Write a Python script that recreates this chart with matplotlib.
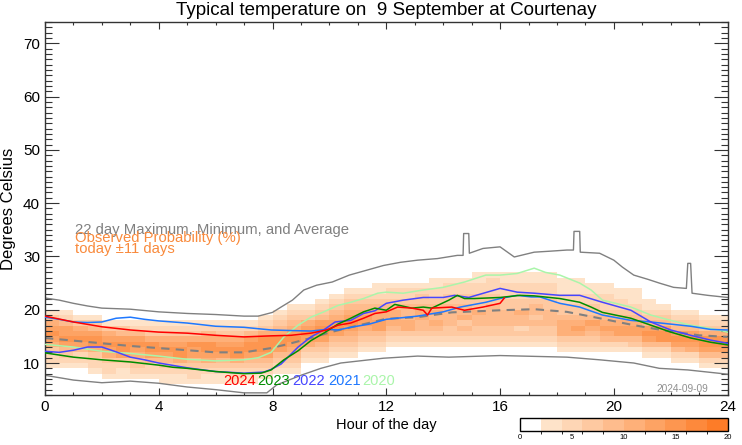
import numpy as np
import matplotlib
matplotlib.use('Agg')
from matplotlib import pyplot as plt
from matplotlib.colors import ListedColormap, BoundaryNorm, to_rgb

plt.rcParams['font.family'] = ['Liberation Sans', 'DejaVu Sans']

TITLE = 'Typical temperature on  9 September at Courtenay'

# observed probability, one string per half hour (0:00 .. 23:30),
# one digit per 1 degree bin starting at 5 C; digit n means [2n, 2n+2) %
prob_bin_low = 5
n_bins = 25
prob_columns = [
    '0000122356765310000000000', '0000123467664210000000000',
    '0000122467653100000000000', '0001223577643100000000000',
    '0012235676531000000000000', '0011236776431000000000000',
    '0012335676421000000000000', '0012246775321000000000000',
    '0112346765321000000000000', '0112357765321000000000000',
    '0122346675321000000000000', '0112356775421000000000000',
    '0112346765321000000000000', '0122357765321000000000000',
    '0112346776421000000000000', '0012346777532100000000000',
    '0001234677543210000000000', '0001234567654321000000000',
    '0000012356765321000000000', '0000012346776432100000000',
    '0000001234676543210000000', '0000001234567654321000000',
    '0000000123456654321000000', '0000000123466554321100000',
    '0000000012345554322100000', '0000000012355444322100000',
    '0000000012344554332100000', '0000000012345454322110000',
    '0000000012334444332210000', '0000000012343544332210000',
    '0000000012334453332211000', '0000000012334444332221000',
    '0000000012334443322211000', '0000000012324453322211000',
    '0000000012334344322211000', '0000000012334443322211000',
    '0000000123555433221110000', '0000000123565433221110000',
    '0000000123456433221100000', '0000000124565432221100000',
    '0000000124665432211000000', '0000000134665432111000000',
    '0000001246764321100000000', '0000001247764321000000000',
    '0000012467643210000000000', '0000012567643210000000000',
    '0000124677532100000000000', '0000124677532100000000000',
]

max_hours = [0, 0.5, 1, 1.5, 2, 3, 4, 5, 6, 7, 7.5, 8, 8.3, 8.7, 9.1, 9.55, 10.1, 10.7,
             11.3, 11.9, 12.5, 13.1, 13.8, 14.5, 14.7, 14.72, 14.9, 14.92, 15.4, 16, 16.5,
             17.2, 17.8, 18.35, 18.58, 18.6, 18.8, 18.82, 19.5, 20, 20.3, 20.7, 21.2, 21.6,
             22.1, 22.55, 22.6, 22.7, 22.75, 23.3, 24]
max_temp = [22.2, 21.8, 21.2, 20.7, 20.3, 20.1, 19.6, 19.3, 19.1, 18.8, 18.8, 19.5, 20.5,
            21.8, 23.7, 24.6, 25.2, 26.5, 27.4, 28.3, 28.9, 29.3, 29.6, 30.2, 30.2, 34.3,
            34.3, 30.6, 31.5, 31.8, 29.9, 30.8, 31.0, 31.2, 31.2, 34.7, 34.7, 30.8, 30.6,
            29.3, 28.0, 26.5, 25.7, 25.0, 24.2, 24.0, 28.7, 28.7, 23.1, 22.7, 22.3]

min_hours = [0, 1, 2, 3, 4, 5, 6, 7, 7.8, 8.15, 9, 9.7, 10.4, 11.9, 13.1, 14.2, 16, 18.35,
             19.5, 20.7, 21.6, 22.6, 24]
min_temp = [7.7, 6.8, 6.3, 6.6, 6.2, 5.5, 5.0, 4.4, 4.4, 5.9, 7.7, 9.0, 10.0, 10.9, 11.3,
            11.1, 11.4, 11.1, 10.6, 10.0, 9.0, 8.7, 7.9]

avg_hours = [0, 1, 2, 3, 4, 5, 6, 7, 7.95, 8.65, 9.35, 10.05, 10.75, 11.45, 12, 13.1, 14.3,
             16, 17.2, 18.35, 19.5, 20.7, 21.9, 23, 24]
avg_temp = [14.7, 14.2, 13.7, 13.2, 12.8, 12.4, 12.0, 12.0, 12.8, 13.7, 14.7, 15.8, 16.7,
            17.6, 18.3, 18.6, 19.5, 19.9, 20.1, 19.6, 18.4, 17.1, 16.0, 15.2, 14.9]

years = ['2024', '2023', '2022', '2021', '2020']
year_colors = ['#ff0000', '#008c00', '#4646ff', '#1e78ff', '#aaf5aa']

hours_2024 = [0, 1, 2, 3, 4, 5, 6, 7, 7.95, 8.65, 9.35, 9.9, 10.3, 10.75, 11.2, 11.6, 12,
              12.4, 12.9, 13.3, 13.45, 13.6, 14.3, 14.75, 15.4, 16, 16.15]
temp_2024 = [18.8, 17.7, 16.8, 16.2, 15.8, 15.6, 15.2, 14.9, 15.1, 15.2, 15.6, 16.2, 17.1,
             17.5, 18.4, 19.3, 19.6, 20.5, 20.3, 19.9, 19.0, 20.3, 20.5, 19.9, 20.5, 21.2, 22.2]

hours_2023 = [0, 1, 2, 3, 4, 4.5, 5, 6, 7, 7.6, 7.95, 8.4, 8.9, 9.35, 9.8, 10.3, 10.75,
              11.2, 11.6, 12, 12.3, 12.9, 13.3, 13.6, 14.2, 14.5, 14.75, 15.1, 16, 16.7,
              17.2, 18.1, 18.8, 19.2, 19.6, 20.6, 21.3, 22, 22.7, 23.4, 24]
temp_2023 = [11.9, 11.1, 10.6, 10.2, 9.6, 9.2, 9.0, 8.4, 8.0, 8.1, 8.7, 10.6, 12.3, 14.2,
             15.6, 17.3, 18.4, 19.6, 20.3, 19.9, 21.0, 20.3, 20.5, 20.3, 21.8, 22.7, 22.1,
             22.1, 22.3, 22.7, 22.6, 22.1, 21.4, 20.5, 19.5, 18.4, 17.1, 15.8, 14.7, 13.9, 13.4]

hours_2022 = [0, 0.5, 1, 1.5, 2, 2.5, 3, 3.5, 4, 5, 6, 7, 7.7, 7.95, 8.3, 8.9, 9.35, 9.8,
              10.2, 10.75, 11.2, 11.6, 12, 12.6, 13.3, 14, 14.4, 14.9, 16, 16.6, 17.2,
              18.1, 18.8, 19.6, 20.6, 21.3, 22, 22.7, 23.4, 24]
temp_2022 = [12.2, 12.0, 12.4, 13.0, 13.0, 12.1, 11.1, 10.6, 10.0, 9.1, 8.4, 8.1, 8.3, 8.8,
             9.8, 13.0, 14.9, 16.2, 17.7, 18.0, 19.3, 19.8, 21.2, 21.8, 22.3, 22.3, 22.7,
             22.3, 24.0, 23.3, 23.1, 22.7, 22.7, 21.4, 19.9, 17.7, 16.2, 15.2, 14.3, 13.7]

hours_2021 = [0, 0.5, 1, 1.5, 2, 2.5, 3, 3.5, 4, 5, 6, 7, 7.95, 8.6, 9.35, 9.9, 10.3, 10.75,
              11.4, 12, 13.1, 14, 14.6, 15.5, 16, 16.6, 17.1, 17.4, 18.1, 18.8, 19.6, 20.6,
              21.3, 22, 22.7, 23.4, 24]
temp_2021 = [18.6, 18.2, 17.7, 17.6, 17.7, 18.4, 18.6, 18.2, 17.9, 17.5, 16.9, 16.7, 16.2,
             16.1, 16.0, 16.3, 16.2, 16.7, 17.3, 18.2, 18.8, 19.6, 20.5, 21.4, 22.1, 22.7,
             22.4, 22.4, 21.2, 20.5, 19.0, 18.0, 17.7, 17.3, 16.9, 16.3, 16.2]

hours_2020 = [0, 1, 2, 3, 4, 5, 6, 7, 7.5, 7.95, 8.4, 8.9, 9.35, 9.8, 10.3, 10.75, 11.2,
              11.7, 12, 12.6, 13.3, 14, 14.75, 15.5, 16, 16.6, 17.2, 17.6, 18.1, 18.8, 19.2,
              19.6, 20.6, 21.3, 22, 22.7, 23.4, 24]
temp_2020 = [13.5, 13.0, 12.2, 11.8, 11.3, 10.7, 10.4, 10.6, 11.0, 12.0, 14.9, 17.1, 18.6,
             19.6, 20.8, 21.4, 22.1, 23.1, 23.3, 23.1, 23.7, 24.2, 25.2, 26.5, 26.5, 26.8,
             27.8, 27.0, 26.5, 25.0, 23.7, 21.8, 20.5, 19.0, 18.0, 17.1, 16.5, 15.8]

year_hours = [hours_2024, hours_2023, hours_2022, hours_2021, hours_2020]
year_temps = [temp_2024, temp_2023, temp_2022, temp_2021, temp_2020]
label_hours = [6.26, 7.47, 8.71, 9.96, 11.17]

# colour scale for the probability cells: white, then light peach to orange
c0 = np.array(to_rgb('#fee3c9'))
c1 = np.array(to_rgb('#fd7c28'))
level_colors = ['#ffffff'] + [tuple(c0 + (c1 - c0) * i / 8) for i in range(9)]
cmap = ListedColormap(level_colors)
norm = BoundaryNorm(np.arange(0, 21, 2), cmap.N)

prob = np.array([[int(c) * 2 + 1 for c in s.ljust(n_bins, '0')[:n_bins]]
                 for s in prob_columns]).T
x_edges = np.arange(0, 24.01, 0.5)
y_edges = np.arange(prob_bin_low, prob_bin_low + n_bins + 1)

fig = plt.figure(figsize=(7.42, 4.45), dpi=100)
ax = fig.add_axes([0.0606, 0.1124, 0.92, 0.8382])

mesh = ax.pcolormesh(x_edges, y_edges, prob, cmap=cmap, norm=norm, zorder=1)

ax.plot(max_hours, max_temp, color='#808080', lw=1.0, zorder=2)
ax.plot(min_hours, min_temp, color='#808080', lw=1.0, zorder=2)
ax.plot(avg_hours, avg_temp, color='#808080', lw=1.5, ls=(0, (4, 3)), zorder=2)

for yr, hh, tt, col, lx in zip(years[::-1], year_hours[::-1], year_temps[::-1],
                                year_colors[::-1], label_hours[::-1]):
    ax.plot(hh, tt, color=col, lw=1.1, zorder=3)
    ax.text(lx, 5.9, yr, color=col, fontsize=10.5, va='baseline', ha='left', zorder=4)

ax.text(1.05, 34.3, '22 day Maximum, Minimum, and Average', color='#808080',
        fontsize=10.7, va='baseline', zorder=4)
ax.text(1.05, 32.65, 'Observed Probability (%)', color='#f98a3c', fontsize=10.7,
        va='baseline', zorder=4)
ax.text(1.05, 30.6, 'today \u00b111 days', color='#f98a3c', fontsize=10.7,
        va='baseline', zorder=4)
ax.text(21.5, 4.6, '2024-09-09', color='#909090', fontsize=7.3, va='baseline', zorder=4)

ax.set_xlim(0, 24)
ax.set_ylim(4, 74)
ax.set_xticks(np.arange(0, 25, 4))
ax.set_xticks(np.arange(0, 25, 1), minor=True)
ax.set_yticks(np.arange(10, 71, 10))
ax.set_yticks(np.arange(4, 75, 1), minor=True)
ax.tick_params(axis='both', which='both', direction='in', top=True, right=True,
               labelsize=11, color='#333333', width=0.8)
ax.tick_params(axis='x', which='major', length=5)
ax.tick_params(axis='x', which='minor', length=2.5)
ax.tick_params(axis='y', which='major', length=10)
ax.tick_params(axis='y', which='minor', length=5)
for sp in ax.spines.values():
    sp.set_linewidth(1.0)
    sp.set_color('#333333')

ax.set_title(TITLE, fontsize=13.5, pad=5)
ax.set_xlabel('Hour of the day', fontsize=10.5, labelpad=3)
ax.set_ylabel('Degrees Celsius', fontsize=12, labelpad=5)

cax = fig.add_axes([0.7008, 0.0315, 0.2798, 0.0292])
cb = fig.colorbar(mesh, cax=cax, orientation='horizontal', ticks=[0, 5, 10, 15, 20])
cb.ax.tick_params(labelsize=5.5, length=0, pad=2)
cb.outline.set_linewidth(1.0)

fig.savefig('out.png', dpi=100)
